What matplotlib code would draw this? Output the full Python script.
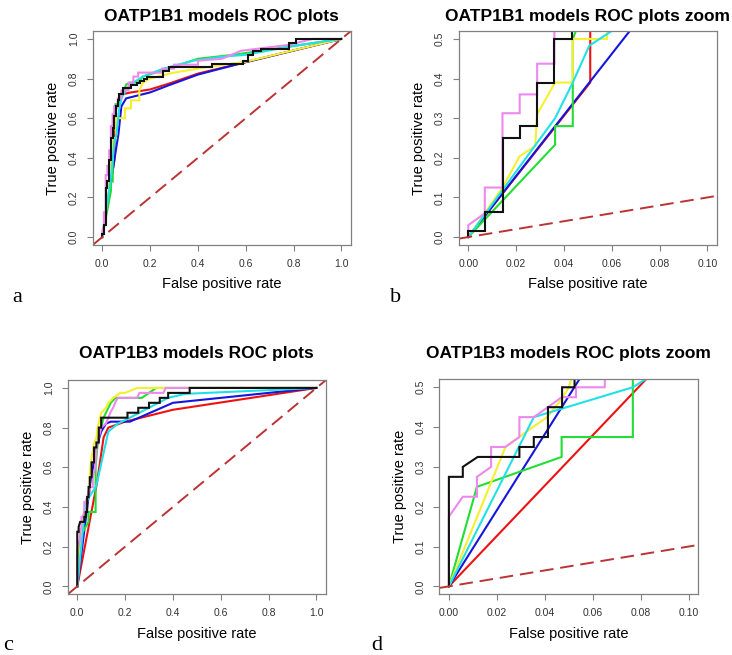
#ROC plots for OATP1B1 / OATP1B3 models (full range + zoom)

import matplotlib
matplotlib.use("Agg")
import matplotlib.pyplot as plt

plt.rcParams['font.family'] = ['Liberation Sans', 'DejaVu Sans']

#OATP1B1 curves (fpr, tpr)
b1_red_fpr = [0, 0.051, 0.051, 0.06, 0.08, 0.12, 0.2, 0.28, 0.4, 0.59, 1.0]
b1_red_tpr = [0, 0.39, 0.6, 0.66, 0.72, 0.73, 0.745, 0.775, 0.825, 0.88, 1.0]

b1_blue_fpr = [0, 0.0675, 0.08, 0.1, 0.2, 0.28, 0.4, 0.59, 1.0]
b1_blue_tpr = [0, 0.52, 0.66, 0.7, 0.73, 0.767, 0.82, 0.88, 1.0]

b1_green_fpr = [0, 0.0363, 0.0363, 0.0437, 0.0437, 0.05, 0.055, 0.07, 0.075, 0.09, 0.1,
                0.12, 0.15, 0.17, 0.3, 0.4, 0.55, 1.0]
b1_green_tpr = [0, 0.233, 0.28, 0.28, 0.5, 0.6, 0.67, 0.67, 0.72, 0.74, 0.77,
                0.78, 0.78, 0.81, 0.86, 0.9, 0.92, 1.0]

b1_yellow_fpr = [0, 0.0069, 0.0143, 0.0215, 0.028, 0.0288, 0.0363, 0.0437, 0.0437, 0.058,
                 0.058, 0.095, 0.095, 0.12, 0.12, 0.155, 0.155, 0.17, 0.2, 0.3, 0.45, 0.6, 1.0]
b1_yellow_tpr = [0, 0.06, 0.125, 0.204, 0.23, 0.31, 0.39, 0.39, 0.5, 0.5,
                 0.6, 0.6, 0.65, 0.65, 0.69, 0.69, 0.74, 0.78, 0.8, 0.83, 0.86, 0.885, 1.0]

b1_cyan_fpr = [0, 0.0363, 0.0437, 0.0506, 0.06, 0.07, 0.08, 0.1, 0.13, 0.17, 0.25, 0.38,
               0.5, 0.6, 0.8, 1.0]
b1_cyan_tpr = [0, 0.3, 0.39, 0.483, 0.52, 0.64, 0.7, 0.745, 0.78, 0.81, 0.848, 0.89,
               0.91, 0.92, 0.965, 1.0]

b1_violet_fpr = [0, 0, 0.0069, 0.0069, 0.0143, 0.0143, 0.0215, 0.0215, 0.0288, 0.0288, 0.036,
                 0.036, 0.043, 0.043, 0.05, 0.05, 0.065, 0.065, 0.08, 0.08, 0.11, 0.11, 0.13,
                 0.13, 0.15, 0.15, 0.25, 0.25, 0.3, 0.3, 0.4, 0.4, 0.5, 0.58, 0.78, 0.88, 1.0]
b1_violet_tpr = [0, 0.03, 0.06, 0.125, 0.125, 0.3125, 0.3125, 0.36, 0.36, 0.4375, 0.4375,
                 0.56, 0.56, 0.62, 0.62, 0.66, 0.66, 0.7, 0.7, 0.74, 0.74, 0.78, 0.78,
                 0.81, 0.81, 0.83, 0.83, 0.85, 0.85, 0.87, 0.87, 0.89, 0.9, 0.94, 0.97, 1.0, 1.0]

b1_black_fpr = [0, 0, 0.0072, 0.0072, 0.0144, 0.0144, 0.0216, 0.0216, 0.0288, 0.0288, 0.036,
                0.036, 0.0432, 0.0432, 0.05, 0.05, 0.058, 0.058, 0.065, 0.065, 0.072, 0.072,
                0.086, 0.086, 0.122, 0.122, 0.144, 0.144, 0.158, 0.158, 0.173, 0.173, 0.187,
                0.187, 0.252, 0.252, 0.281, 0.281, 0.46, 0.46, 0.59, 0.59, 0.61, 0.61, 0.63,
                0.63, 0.665, 0.665, 0.78, 0.78, 0.81, 0.81, 1.0]
b1_black_tpr = [0, 0.0156, 0.0156, 0.0625, 0.0625, 0.25, 0.25, 0.281, 0.281, 0.39, 0.39,
                0.5, 0.5, 0.55, 0.55, 0.61, 0.61, 0.66, 0.66, 0.69, 0.69, 0.72,
                0.72, 0.75, 0.75, 0.765, 0.765, 0.78, 0.78, 0.79, 0.79, 0.8, 0.8,
                0.81, 0.81, 0.84, 0.84, 0.86, 0.86, 0.875, 0.875, 0.89, 0.89, 0.92, 0.92,
                0.94, 0.94, 0.95, 0.95, 0.98, 0.98, 1.0, 1.0]

#OATP1B3 curves (fpr, tpr)
b3_red_fpr = [0, 0.0822, 0.11, 0.13, 0.2, 0.4, 1.0]
b3_red_tpr = [0, 0.52, 0.75, 0.8, 0.83, 0.89, 1.0]

b3_blue_fpr = [0, 0.0544, 0.08, 0.1, 0.12, 0.14, 0.22, 0.4, 1.0]
b3_blue_tpr = [0, 0.52, 0.7, 0.78, 0.82, 0.83, 0.83, 0.925, 1.0]

b3_green_fpr = [0, 0.0117, 0.047, 0.047, 0.0767, 0.0767, 0.085, 0.09, 0.1, 0.11, 0.12,
                0.13, 0.14, 0.16, 0.27, 0.3, 0.33, 1.0]
b3_green_tpr = [0, 0.25, 0.325, 0.375, 0.375, 0.6, 0.72, 0.8, 0.8, 0.85, 0.875,
                0.9, 0.925, 0.95, 0.95, 0.975, 1.0, 1.0]

b3_yellow_fpr = [0, 0.0236, 0.035, 0.041, 0.047, 0.05, 0.055, 0.06, 0.07, 0.08, 0.085,
                 0.095, 0.1, 0.12, 0.13, 0.15, 0.18, 0.2, 0.25, 1.0]
b3_yellow_tpr = [0, 0.35, 0.4, 0.425, 0.47, 0.5, 0.6, 0.65, 0.72, 0.75, 0.8,
                 0.85, 0.875, 0.9, 0.925, 0.95, 0.975, 0.975, 1.0, 1.0]

b3_cyan_fpr = [0, 0.0354, 0.0767, 0.082, 0.13, 0.17, 0.22, 0.3, 0.38, 0.45, 1.0]
b3_cyan_tpr = [0, 0.425, 0.5, 0.52, 0.78, 0.82, 0.85, 0.9, 0.95, 0.97, 1.0]

b3_violet_fpr = [0, 0, 0.0058, 0.0117, 0.0117, 0.0176, 0.0176, 0.0235, 0.0294, 0.0294, 0.0354,
                 0.0413, 0.047, 0.053, 0.053, 0.065, 0.065, 0.075, 0.08, 0.09, 0.1, 0.12,
                 0.13, 0.14, 0.15, 0.16, 0.17, 0.25, 0.26, 0.36, 0.37, 1.0]
b3_violet_tpr = [0, 0.175, 0.225, 0.225, 0.275, 0.3, 0.35, 0.35, 0.375, 0.425, 0.425,
                 0.45, 0.475, 0.475, 0.5, 0.5, 0.55, 0.6, 0.7, 0.75, 0.8, 0.82,
                 0.85, 0.88, 0.9, 0.93, 0.95, 0.95, 0.975, 0.975, 1.0, 1.0]

b3_black_fpr = [0, 0, 0.0058, 0.0058, 0.012, 0.0294, 0.0294, 0.0354, 0.0354, 0.0413, 0.0413,
                0.0472, 0.0472, 0.0524, 0.0524, 0.06, 0.06, 0.07, 0.07, 0.08, 0.08, 0.09,
                0.09, 0.1, 0.1, 0.21, 0.21, 0.255, 0.255, 0.3, 0.3, 0.345, 0.345, 0.38,
                0.38, 0.47, 0.47, 1.0]
b3_black_tpr = [0, 0.275, 0.275, 0.3, 0.325, 0.325, 0.35, 0.35, 0.375, 0.375, 0.45,
                0.45, 0.5, 0.5, 0.55, 0.55, 0.625, 0.625, 0.7, 0.7, 0.725, 0.725,
                0.8, 0.8, 0.85, 0.85, 0.875, 0.875, 0.9, 0.9, 0.925, 0.925, 0.95, 0.95,
                0.975, 0.975, 1.0, 1.0]

colors = {"red": "#EE1111", "blue": "#1515DD", "green": "#22DD33", "yellow": "#F4F030",
          "cyan": "#22E0E8", "violet": "#EE88EE", "black": "#111111"}

b1 = [("red", b1_red_fpr, b1_red_tpr), ("blue", b1_blue_fpr, b1_blue_tpr),
      ("green", b1_green_fpr, b1_green_tpr), ("yellow", b1_yellow_fpr, b1_yellow_tpr),
      ("cyan", b1_cyan_fpr, b1_cyan_tpr), ("violet", b1_violet_fpr, b1_violet_tpr),
      ("black", b1_black_fpr, b1_black_tpr)]
b3 = [("red", b3_red_fpr, b3_red_tpr), ("blue", b3_blue_fpr, b3_blue_tpr),
      ("green", b3_green_fpr, b3_green_tpr), ("yellow", b3_yellow_fpr, b3_yellow_tpr),
      ("cyan", b3_cyan_fpr, b3_cyan_tpr), ("violet", b3_violet_fpr, b3_violet_tpr),
      ("black", b3_black_fpr, b3_black_tpr)]

W, H = 732, 655
fig = plt.figure(figsize=(W / 100, H / 100), dpi=100)


def box(l, t, r, b):
    return [l / W, 1 - b / H, (r - l) / W, (b - t) / H]


def roc_panel(pos, curves, title, zoom, letter, letter_xy, title_pad):
    ax = fig.add_axes(box(*pos))
    for name, x, y in curves:
        ax.plot(x, y, color=colors[name], lw=1.5, solid_joinstyle="miter")
    ax.axline((0, 0), (1, 1), color="#BB3333", lw=1.4, dashes=(7, 3.5))
    if zoom:
        ax.set_xlim(-0.004, 0.104)
        ax.set_ylim(-0.02, 0.52)
        ax.set_xticks([0, 0.02, 0.04, 0.06, 0.08, 0.10])
        ax.set_xticklabels(["0.00", "0.02", "0.04", "0.06", "0.08", "0.10"])
        ax.set_yticks([0, 0.1, 0.2, 0.3, 0.4, 0.5])
    else:
        ax.set_xlim(-0.04, 1.04)
        ax.set_ylim(-0.04, 1.04)
        ax.set_xticks([0, 0.2, 0.4, 0.6, 0.8, 1.0])
        ax.set_xticklabels(["0.0", "0.2", "0.4", "0.6", "0.8", "1.0"])
        ax.set_yticks([0, 0.2, 0.4, 0.6, 0.8, 1.0])
    ax.set_yticklabels([f"{v:.1f}" for v in ax.get_yticks()], rotation=90, va="center")
    for s in ax.spines.values():
        s.set_color("#808080")
        s.set_linewidth(0.9)
    ax.tick_params(length=4, width=0.8, color="#808080", labelsize=7.5, labelcolor="#333333", pad=6)
    ax.set_xlabel("False positive rate", fontsize=10.5, labelpad=6)
    ax.set_ylabel("True positive rate", fontsize=10.5, labelpad=6)
    ax.set_title(title, fontsize=12.5, fontweight="bold", pad=title_pad)
    fig.text(letter_xy[0] / W, 1 - letter_xy[1] / H, letter, family="Liberation Serif",
             fontsize=16, ha="left", va="center")
    return ax


roc_panel((92.7, 31, 351, 245), b1, "OATP1B1 models ROC plots", False, "a", (12, 297), 7.5)
roc_panel((458.7, 31, 717, 245), b1, "OATP1B1 models ROC plots zoom", True, "b", (390, 297), 7.5)
roc_panel((67.7, 380, 326, 594.3), b3, "OATP1B3 models ROC plots", False, "c", (3, 645), 15.5)
roc_panel((439.3, 379.3, 698.3, 594.3), b3, "OATP1B3 models ROC plots zoom", True, "d", (371, 645), 15.5)

plt.savefig("out.png", dpi=100)
